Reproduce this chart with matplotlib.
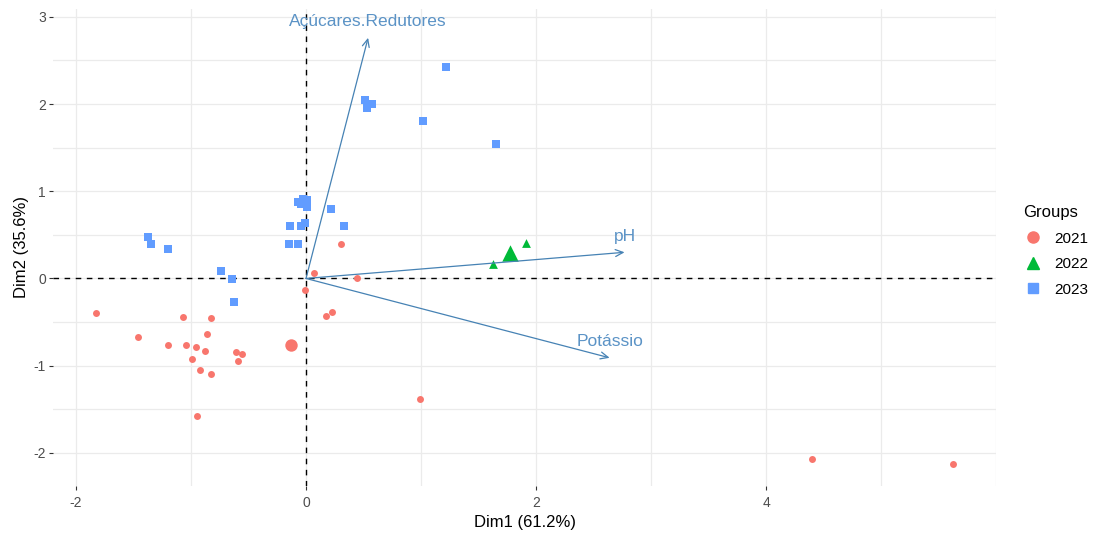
import numpy as np
import matplotlib
matplotlib.use('Agg')
import matplotlib.pyplot as plt
from matplotlib.lines import Line2D

plt.rcParams['font.family'] = ['Liberation Sans', 'DejaVu Sans']
plt.rcParams['axes.unicode_minus'] = False

# Coordenadas dos individuos (Dim1, Dim2) por grupo
x_2021 = [-1.83, -1.46, -1.20, -1.07, -1.04, -0.96, -0.99, -0.92, -0.88, -0.86,
          -0.83, -0.83, -0.95, -0.61, -0.56, -0.59, -0.01, 0.17, 0.23, 0.99,
          0.30, 0.07, 0.44, 4.40, 5.63]
y_2021 = [-0.40, -0.67, -0.76, -0.44, -0.76, -0.79, -0.92, -1.05, -0.83, -0.64,
          -0.45, -1.09, -1.58, -0.84, -0.87, -0.95, -0.13, -0.43, -0.39, -1.38,
          0.40, 0.065, 0.01, -2.07, -2.13]

x_2022 = [1.63, 1.91]
y_2022 = [0.17, 0.41]

x_2023 = [1.22, 0.51, 0.53, 0.57, 1.02, 1.65, 0.22, 0.33, 0.01, -0.01,
          -0.14, -0.04, -0.15, -0.07, -0.07, -0.03, 0.01, -0.04, -1.37, -1.35,
          -1.20, -0.74, -0.64, -0.63]
y_2023 = [2.43, 2.05, 1.96, 2.00, 1.81, 1.54, 0.80, 0.60, 0.82, 0.64,
          0.60, 0.60, 0.39, 0.39, 0.88, 0.91, 0.90, 0.85, 0.47, 0.40,
          0.34, 0.09, -0.01, -0.27]

# Variaveis (setas)
variaveis = ['Açúcares.Redutores', 'pH', 'Potássio']
var_x = [0.54, 2.77, 2.64]
var_y = [2.76, 0.30, -0.91]

grupos = ['2021', '2022', '2023']
cores = ['#F8766D', '#00BA38', '#619CFF']
marcadores = ['o', '^', 's']

W, H = 1101, 533
fig = plt.figure(figsize=(W / 100, H / 100), dpi=100)
ax = fig.add_axes([53 / W, 47 / H, (996 - 53) / W, (486 - 9) / H])
ax.set_xlim(-2.2, 6.0)
ax.set_ylim(-2.38, 3.09)

# grade estilo theme_minimal
for v in np.arange(-2, 7, 1):
    ax.axvline(v, color='#EBEBEB', lw=0.9, zorder=0)
for v in np.arange(-2, 3.5, 0.5):
    ax.axhline(v, color='#EBEBEB', lw=0.9, zorder=0)
for s in ax.spines.values():
    s.set_visible(False)

ax.axhline(0, color='black', lw=1.0, ls=(0, (4, 4)), zorder=1)
ax.axvline(0, color='black', lw=1.0, ls=(0, (4, 4)), zorder=1)

dados = [(x_2021, y_2021, 25, 80), (x_2022, y_2022, 40, 140), (x_2023, y_2023, 33, 55)]
for (xs, ys, s_pt, s_cent), cor, m in zip(dados, cores, marcadores):
    ax.scatter(xs, ys, s=s_pt, c=cor, marker=m, linewidths=0, zorder=3)
    ax.scatter([np.mean(xs)], [np.mean(ys)], s=s_cent, c=cor, marker=m,
               linewidths=0, zorder=4)

for nome, vx, vy in zip(variaveis, var_x, var_y):
    ax.annotate('', xy=(vx, vy), xytext=(0, 0),
                arrowprops=dict(arrowstyle='->,head_length=0.55,head_width=0.25',
                                color='#4682B4', lw=0.9, shrinkA=0, shrinkB=0),
                zorder=5)
    ax.annotate(nome, xy=(vx, vy), xytext=(0, 11.5), textcoords='offset points',
                ha='center', va='center', color='#5B93C6', fontsize=12.5, zorder=6)

ax.set_xticks([-2, 0, 2, 4])
ax.set_yticks([-2, -1, 0, 1, 2, 3])
ax.tick_params(axis='both', length=3, width=0.8, color='#333333',
               labelcolor='#4D4D4D', labelsize=10)
ax.tick_params(axis='x', pad=4)
ax.tick_params(axis='y', pad=2)
ax.set_xlabel('Dim1 (61.2%)', fontsize=12, labelpad=4)
ax.set_ylabel('Dim2 (35.6%)', fontsize=12, labelpad=3)

handles = [Line2D([], [], ls='none', marker=m, color=c, markersize=ms)
           for m, c, ms in zip(marcadores, cores, [8, 9, 7.5])]
leg = fig.legend(handles, grupos, title='Groups', loc='upper left',
                 bbox_to_anchor=(1011 / W, 1 - 193 / H), frameon=False,
                 fontsize=11, title_fontsize=12, handletextpad=0.7,
                 labelspacing=0.75, handlelength=1.3, borderpad=0.3)
leg._legend_box.align = 'left'

fig.savefig('out.png', dpi=100)
